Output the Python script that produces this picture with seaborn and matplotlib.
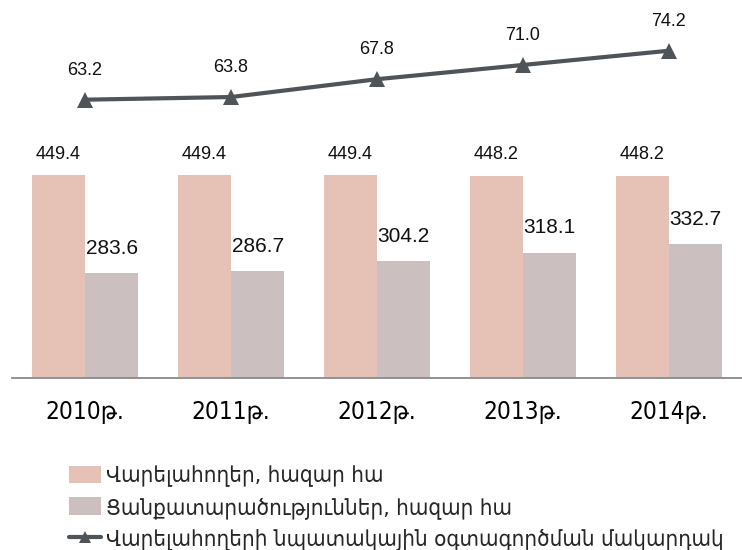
import numpy as np
import pandas as pd
import matplotlib
matplotlib.use("Agg")
import matplotlib.pyplot as plt
import seaborn as sns
from matplotlib.patches import Patch
from matplotlib.lines import Line2D

# данные
years = ["2010թ.", "2011թ.", "2012թ.", "2013թ.", "2014թ."]
arable = [449.4, 449.4, 449.4, 448.2, 448.2]
sown = [283.6, 286.7, 304.2, 318.1, 332.7]
usage_level = [63.2, 63.8, 67.8, 71.0, 74.2]

series_names = ["Վարելահողեր, հազար հա", "Ցանքատարածություններ, հազար հա"]
line_name = "Վարելահողերի նպատակային օգտագործման մակարդակ"

pink = "#e6c1b6"
grey = "#cbbfbf"
line_color = "#4f5459"

sns.set_style("white")
plt.rcParams["font.family"] = ["Liberation Sans", "DejaVu Sans"]
narrow = ["Liberation Sans Narrow", "DejaVu Sans"]

df = pd.DataFrame({
    "year": years * 2,
    "value": arable + sown,
    "series": [series_names[0]] * len(years) + [series_names[1]] * len(years),
})

fig = plt.figure(figsize=(7.42, 5.5), dpi=100)
ax = fig.add_axes([12 / 742, 172 / 550, 730 / 742, 358 / 550])

sns.barplot(data=df, x="year", y="value", hue="series",
            palette=[pink, grey], width=0.73, gap=0, ax=ax, legend=False,
            saturation=1, linewidth=0)
ax.set_ylim(106, 712)
ax.set_xlim(-0.5, 4.5)

# подписи над столбцами
ax.bar_label(ax.containers[0], labels=[f"{v:.1f}" for v in arable],
             padding=9, fontsize=13, color="#111111")
ax.bar_label(ax.containers[1], labels=[f"{v:.1f}" for v in sown],
             padding=11, fontsize=15, color="#111111")

for s in ["top", "left", "right"]:
    ax.spines[s].set_visible(False)
ax.spines["bottom"].set_color("#8a8a8a")
ax.spines["bottom"].set_linewidth(1.3)
ax.set_yticks([])
ax.set_xlabel("")
ax.set_ylabel("")
ax.tick_params(axis="x", length=0, pad=16, labelcolor="#000000")
for lbl in ax.get_xticklabels():
    lbl.set_fontfamily(narrow)
    lbl.set_fontsize(17.5)
    lbl.set_fontstretch("condensed")

# линия на второй оси
ax2 = ax.twinx()
sns.lineplot(x=np.arange(len(years)), y=usage_level, ax=ax2, color=line_color,
             linewidth=3, marker="^", markersize=12, markeredgewidth=0, sort=False)
ax2.set_ylim(0.7, 81.1)
ax2.set_yticks([])
for s in ax2.spines.values():
    s.set_visible(False)
for i, v in enumerate(usage_level):
    ax2.annotate(f"{v:.1f}", (i, v), xytext=(0, 15), textcoords="offset points",
                 ha="center", va="bottom", fontsize=13, color="#111111")

handles = [
    Patch(facecolor=pink, edgecolor="none"),
    Patch(facecolor=grey, edgecolor="none"),
    Line2D([0], [0], color=line_color, linewidth=3, marker="^", markersize=9,
           markeredgewidth=0),
]
fig.legend(handles, series_names + [line_name], loc="upper left",
           bbox_to_anchor=(0.081, 0.17), frameon=False,
           prop={"family": narrow, "size": 16, "stretch": "condensed"},
           handlelength=1.45, handleheight=0.85, handletextpad=0.2,
           labelspacing=0.44, borderaxespad=0)

fig.savefig("out.png", dpi=100)
